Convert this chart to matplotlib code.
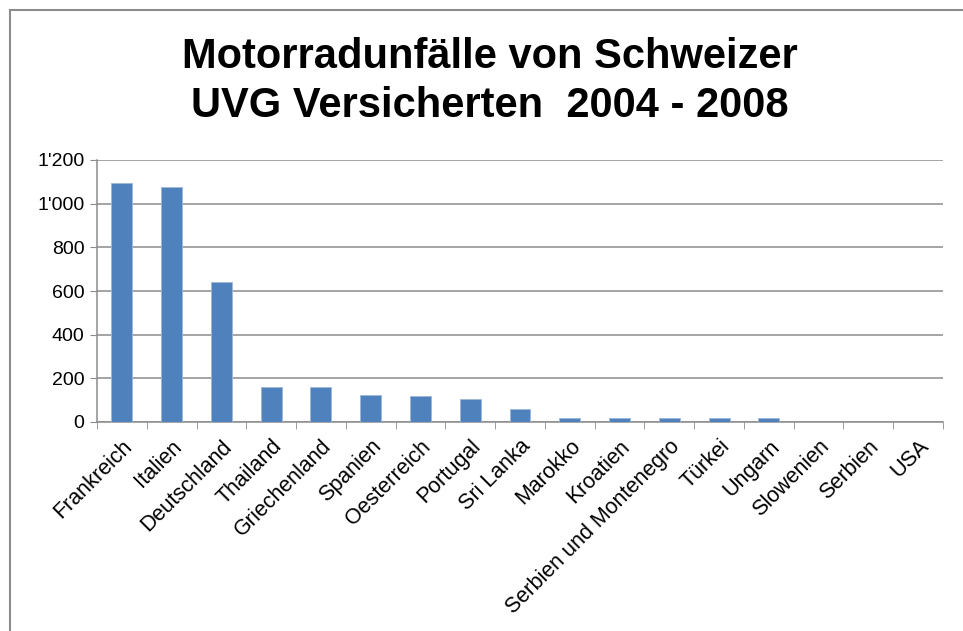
import matplotlib.pyplot as plt
import numpy as np
from matplotlib.patches import Rectangle

laender = ["Frankreich", "Italien", "Deutschland", "Thailand", "Griechenland",
           "Spanien", "Oesterreich", "Portugal", "Sri Lanka", "Marokko",
           "Kroatien", "Serbien und Montenegro", "Türkei", "Ungarn",
           "Slowenien", "Serbien", "USA"]
unfaelle = [1095, 1075, 640, 159, 159, 124, 118, 107, 58, 18,
            18, 18, 18, 18, 1, 1, 1]
y_ticks = [0, 200, 400, 600, 800, 1000, 1200]

plt.rcParams['font.family'] = ['Liberation Sans', 'DejaVu Sans']

fig = plt.figure(figsize=(9.63, 6.31), dpi=100)
ax = fig.add_axes([97/963, 1 - 422/631, 846/963, 262/631])

# chart frame (partly outside the picture like the original)
fig.patches.append(Rectangle((10/963, -0.1), 1.1, 1 - 10/631 + 0.1,
                             transform=fig.transFigure, fill=False,
                             edgecolor="#8c8c8c", linewidth=1.5))

x = np.arange(len(laender))
ax.bar(x, unfaelle, width=0.42, color="#4F81BD", edgecolor="#9db7d9",
       linewidth=0.6, zorder=3)

ax.set_xlim(-0.5, len(laender) - 0.5)
ax.set_ylim(0, 1200)
ax.set_yticks(y_ticks)
ax.set_yticklabels([f"{v:,}".replace(",", "'") for v in y_ticks], fontsize=14)
ax.yaxis.grid(True, color="#8c8c8c", linewidth=1.1, zorder=0)
ax.tick_params(axis="y", length=5, color="#8c8c8c", pad=4)

ax.set_xticks(x)
ax.set_xticklabels(laender, rotation=45, ha="right", rotation_mode="anchor",
                   fontsize=15.5)
ax.set_xticks(np.arange(len(laender) + 1) - 0.5, minor=True)
ax.tick_params(axis="x", which="major", length=0, pad=10)
ax.tick_params(axis="x", which="minor", length=5, color="#8c8c8c")

for s in ["top", "right"]:
    ax.spines[s].set_visible(False)
for s in ["left", "bottom"]:
    ax.spines[s].set_color("#8c8c8c")
    ax.spines[s].set_linewidth(1.1)

fig.text(0.509, 1 - 68/631, "Motorradunfälle von Schweizer",
         ha="center", va="baseline", fontsize=30, fontweight="bold")
fig.text(0.509, 1 - 117/631, "UVG Versicherten  2004 - 2008",
         ha="center", va="baseline", fontsize=30, fontweight="bold")

fig.savefig("out.png", dpi=100)
